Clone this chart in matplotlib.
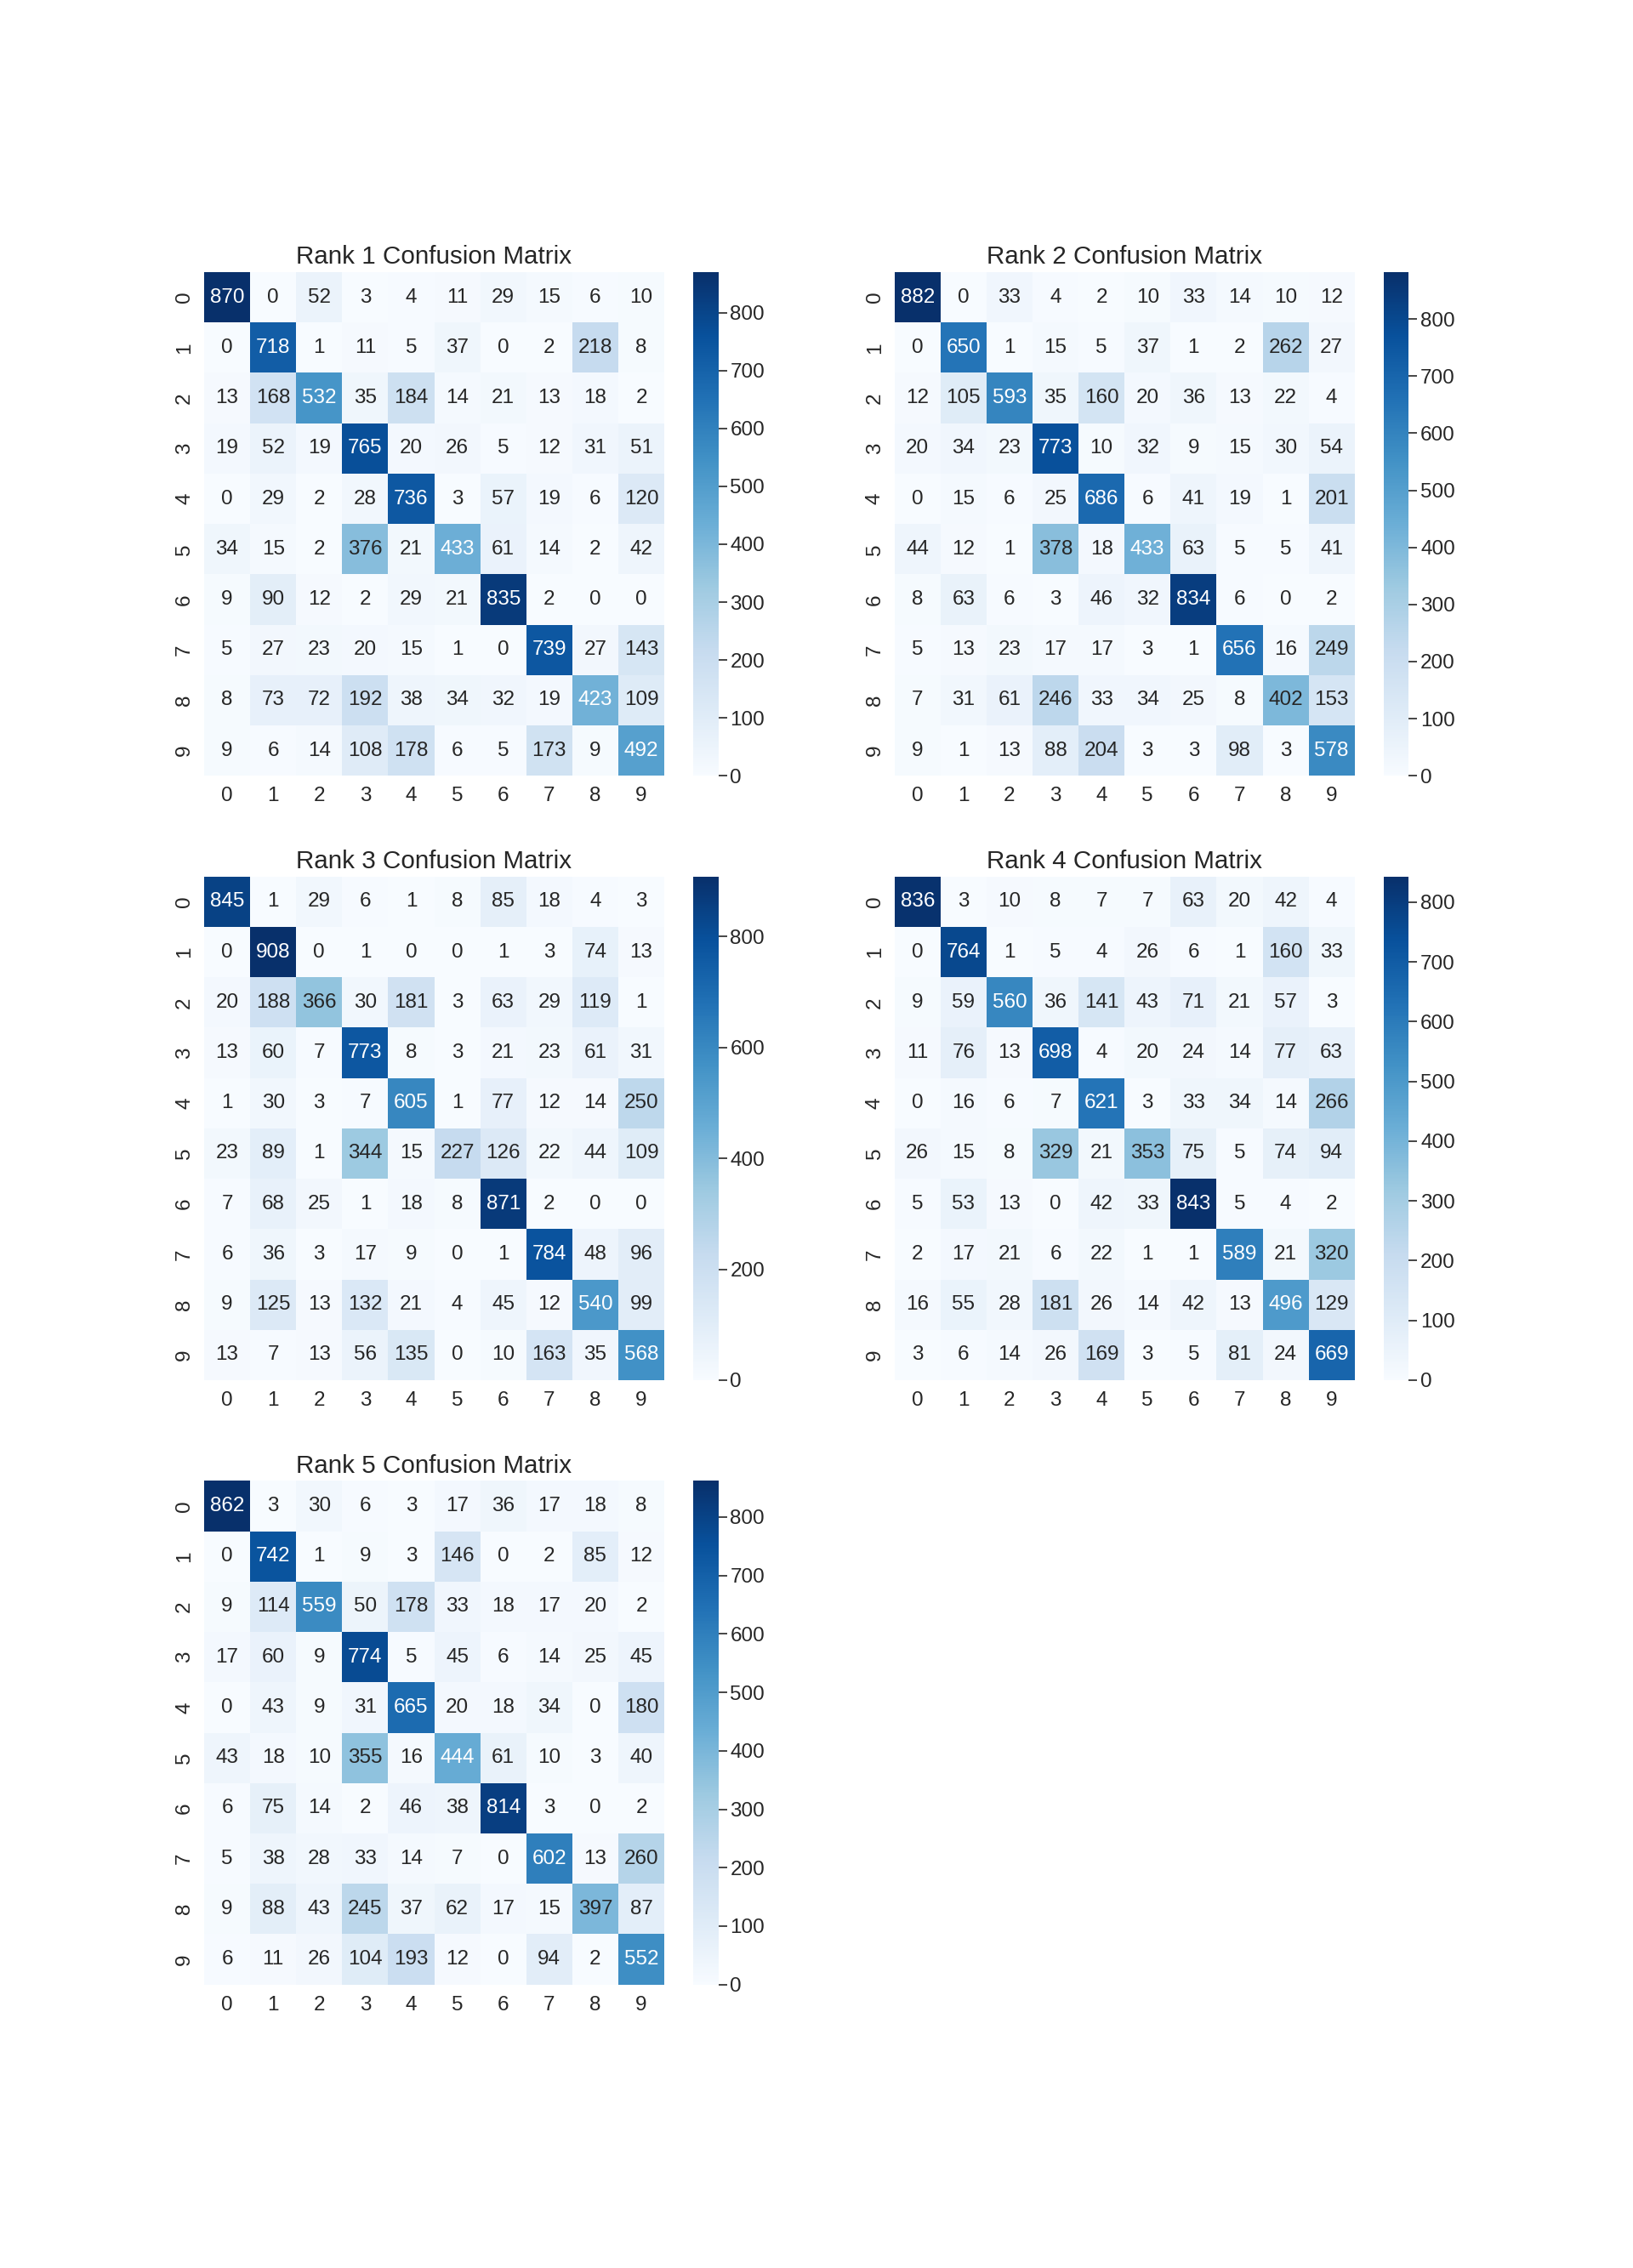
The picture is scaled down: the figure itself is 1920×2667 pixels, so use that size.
import numpy as np
import matplotlib
matplotlib.use("Agg")
import matplotlib.pyplot as plt
import seaborn as sns

labels = [str(i) for i in range(10)]
titles = ["Rank 1 Confusion Matrix", "Rank 2 Confusion Matrix", "Rank 3 Confusion Matrix",
          "Rank 4 Confusion Matrix", "Rank 5 Confusion Matrix"]

cm_rank1 = [
    [870, 0, 52, 3, 4, 11, 29, 15, 6, 10],
    [0, 718, 1, 11, 5, 37, 0, 2, 218, 8],
    [13, 168, 532, 35, 184, 14, 21, 13, 18, 2],
    [19, 52, 19, 765, 20, 26, 5, 12, 31, 51],
    [0, 29, 2, 28, 736, 3, 57, 19, 6, 120],
    [34, 15, 2, 376, 21, 433, 61, 14, 2, 42],
    [9, 90, 12, 2, 29, 21, 835, 2, 0, 0],
    [5, 27, 23, 20, 15, 1, 0, 739, 27, 143],
    [8, 73, 72, 192, 38, 34, 32, 19, 423, 109],
    [9, 6, 14, 108, 178, 6, 5, 173, 9, 492],
]
cm_rank2 = [
    [882, 0, 33, 4, 2, 10, 33, 14, 10, 12],
    [0, 650, 1, 15, 5, 37, 1, 2, 262, 27],
    [12, 105, 593, 35, 160, 20, 36, 13, 22, 4],
    [20, 34, 23, 773, 10, 32, 9, 15, 30, 54],
    [0, 15, 6, 25, 686, 6, 41, 19, 1, 201],
    [44, 12, 1, 378, 18, 433, 63, 5, 5, 41],
    [8, 63, 6, 3, 46, 32, 834, 6, 0, 2],
    [5, 13, 23, 17, 17, 3, 1, 656, 16, 249],
    [7, 31, 61, 246, 33, 34, 25, 8, 402, 153],
    [9, 1, 13, 88, 204, 3, 3, 98, 3, 578],
]
cm_rank3 = [
    [845, 1, 29, 6, 1, 8, 85, 18, 4, 3],
    [0, 908, 0, 1, 0, 0, 1, 3, 74, 13],
    [20, 188, 366, 30, 181, 3, 63, 29, 119, 1],
    [13, 60, 7, 773, 8, 3, 21, 23, 61, 31],
    [1, 30, 3, 7, 605, 1, 77, 12, 14, 250],
    [23, 89, 1, 344, 15, 227, 126, 22, 44, 109],
    [7, 68, 25, 1, 18, 8, 871, 2, 0, 0],
    [6, 36, 3, 17, 9, 0, 1, 784, 48, 96],
    [9, 125, 13, 132, 21, 4, 45, 12, 540, 99],
    [13, 7, 13, 56, 135, 0, 10, 163, 35, 568],
]
cm_rank4 = [
    [836, 3, 10, 8, 7, 7, 63, 20, 42, 4],
    [0, 764, 1, 5, 4, 26, 6, 1, 160, 33],
    [9, 59, 560, 36, 141, 43, 71, 21, 57, 3],
    [11, 76, 13, 698, 4, 20, 24, 14, 77, 63],
    [0, 16, 6, 7, 621, 3, 33, 34, 14, 266],
    [26, 15, 8, 329, 21, 353, 75, 5, 74, 94],
    [5, 53, 13, 0, 42, 33, 843, 5, 4, 2],
    [2, 17, 21, 6, 22, 1, 1, 589, 21, 320],
    [16, 55, 28, 181, 26, 14, 42, 13, 496, 129],
    [3, 6, 14, 26, 169, 3, 5, 81, 24, 669],
]
cm_rank5 = [
    [862, 3, 30, 6, 3, 17, 36, 17, 18, 8],
    [0, 742, 1, 9, 3, 146, 0, 2, 85, 12],
    [9, 114, 559, 50, 178, 33, 18, 17, 20, 2],
    [17, 60, 9, 774, 5, 45, 6, 14, 25, 45],
    [0, 43, 9, 31, 665, 20, 18, 34, 0, 180],
    [43, 18, 10, 355, 16, 444, 61, 10, 3, 40],
    [6, 75, 14, 2, 46, 38, 814, 3, 0, 2],
    [5, 38, 28, 33, 14, 7, 0, 602, 13, 260],
    [9, 88, 43, 245, 37, 62, 17, 15, 397, 87],
    [6, 11, 26, 104, 193, 12, 0, 94, 2, 552],
]
matrices = [cm_rank1, cm_rank2, cm_rank3, cm_rank4, cm_rank5]

sns.set_style("white")
plt.rcParams["font.family"] = ["Liberation Sans", "DejaVu Sans"]
plt.rcParams["text.color"] = "#262626"
plt.rcParams["xtick.color"] = "#262626"
plt.rcParams["ytick.color"] = "#262626"

fig, axes = plt.subplots(3, 2, figsize=(19.2, 26.67), dpi=100)
fig.subplots_adjust(left=0.125, right=0.9, top=0.88, bottom=0.125,
                    wspace=0.2, hspace=0.2)

for idx, ax in enumerate(axes.flat):
    if idx >= len(matrices):
        ax.remove()
        continue
    data = np.array(matrices[idx])
    sns.heatmap(data, annot=True, fmt="d", cmap="Blues", ax=ax,
                xticklabels=labels, yticklabels=labels,
                annot_kws={"fontsize": 17.5})
    ax.set_title(titles[idx], fontsize=21.3, pad=7)
    ax.tick_params(axis="both", length=0, labelsize=17.5)
    ax.tick_params(axis="x", pad=9.5)
    ax.tick_params(axis="y", pad=8.5)
    for t in ax.get_yticklabels():
        t.set_rotation(90)
        t.set_va("center")
    cax = ax.collections[0].colorbar.ax
    cax.tick_params(axis="y", right=True, length=7, width=1.2, pad=3,
                    labelsize=17.5, color="#262626")

fig.savefig("out.png", dpi=100, facecolor="white")
